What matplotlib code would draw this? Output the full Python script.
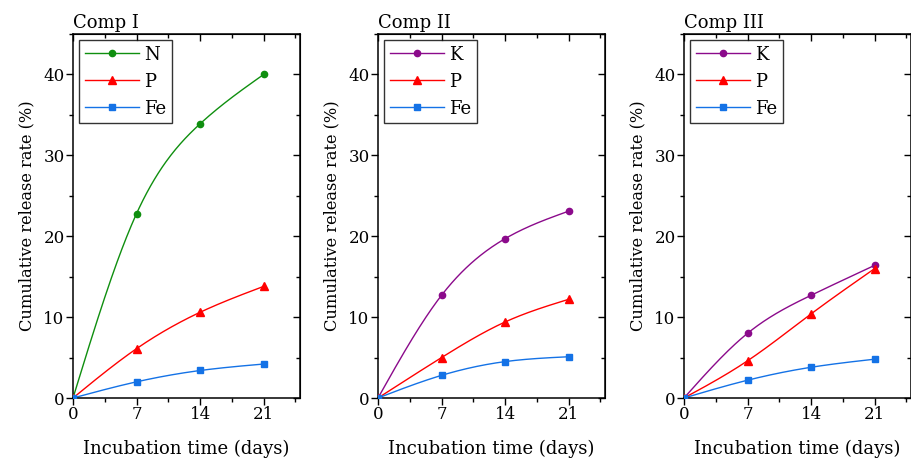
import matplotlib
matplotlib.use("Agg")
import matplotlib.pyplot as plt
import numpy as np
from matplotlib.ticker import MultipleLocator

# data
days = [0, 7, 14, 21]
titles = ["Comp I", "Comp II", "Comp III"]
names = [["N", "P", "Fe"], ["K", "P", "Fe"], ["K", "P", "Fe"]]
comp1_n = [0, 22.8, 33.9, 40.0]
comp1_p = [0, 6.1, 10.6, 13.8]
comp1_fe = [0, 2.0, 3.4, 4.2]
comp2_k = [0, 12.7, 19.7, 23.1]
comp2_p = [0, 5.0, 9.4, 12.2]
comp2_fe = [0, 2.8, 4.5, 5.1]
comp3_k = [0, 8.0, 12.7, 16.4]
comp3_p = [0, 4.6, 10.4, 16.0]
comp3_fe = [0, 2.2, 3.8, 4.8]

series = [[comp1_n, comp1_p, comp1_fe],
          [comp2_k, comp2_p, comp2_fe],
          [comp3_k, comp3_p, comp3_fe]]

colors = {"N": "#0f8f0f", "K": "#8b0a8b", "P": "#ff0000", "Fe": "#1472e6"}
markers = {"N": "o", "K": "o", "P": "^", "Fe": "s"}
msizes = {"N": 4.5, "K": 4.5, "P": 5.5, "Fe": 4.5}


def spline(x, y, n=200):
    # natural cubic spline, just for drawing the smooth connecting line
    x = np.asarray(x, float)
    y = np.asarray(y, float)
    k = len(x)
    h = np.diff(x)
    A = np.zeros((k, k))
    b = np.zeros(k)
    A[0, 0] = A[-1, -1] = 1
    for i in range(1, k - 1):
        A[i, i - 1] = h[i - 1]
        A[i, i] = 2 * (h[i - 1] + h[i])
        A[i, i + 1] = h[i]
        b[i] = 6 * ((y[i + 1] - y[i]) / h[i] - (y[i] - y[i - 1]) / h[i - 1])
    M = np.linalg.solve(A, b)
    xs = np.linspace(x[0], x[-1], n)
    idx = np.clip(np.searchsorted(x, xs) - 1, 0, k - 2)
    x0, x1 = x[idx], x[idx + 1]
    hh = x1 - x0
    t0, t1 = x1 - xs, xs - x0
    ys = (M[idx] * t0**3 + M[idx + 1] * t1**3) / (6 * hh) \
        + (y[idx] / hh - M[idx] * hh / 6) * t0 \
        + (y[idx + 1] / hh - M[idx + 1] * hh / 6) * t1
    return xs, ys


plt.rcParams['font.family'] = ['DejaVu Serif']

fig = plt.figure(figsize=(9.12, 4.61), dpi=100)
lefts = [73, 378, 684]
W, H = 912.0, 461.0

for j in range(3):
    ax = fig.add_axes([lefts[j] / W, 63 / H, 227 / W, 364 / H])
    for name, vals in zip(names[j], series[j]):
        c = colors[name]
        xs, ys = spline(days, vals)
        ax.plot(xs, ys, color=c, lw=1.0, zorder=2)
        ax.plot(days, vals, ls='none', marker=markers[name], ms=msizes[name],
                color=c, zorder=3)
        ax.plot([], [], color=c, lw=1.0, marker=markers[name],
                ms=msizes[name], label=name)

    ax.set_xlim(0, 25)
    ax.set_ylim(0, 45)
    ax.set_xticks(days)
    ax.set_yticks([0, 10, 20, 30, 40])
    ax.xaxis.set_minor_locator(MultipleLocator(3.5))
    ax.yaxis.set_minor_locator(MultipleLocator(5))
    ax.tick_params(which='both', direction='out', labelsize=12, width=1.0)
    ax.tick_params(which='major', length=5, pad=1)
    ax.tick_params(which='minor', length=3)
    for s in ax.spines.values():
        s.set_linewidth(1.1)

    # inward mirror ticks on top and right
    top = ax.secondary_xaxis('top')
    top.set_xticks(days)
    top.xaxis.set_minor_locator(MultipleLocator(3.5))
    top.tick_params(which='both', direction='in', labeltop=False, width=1.0)
    top.tick_params(which='major', length=5)
    top.tick_params(which='minor', length=3)
    right = ax.secondary_yaxis('right')
    right.set_yticks([0, 10, 20, 30, 40])
    right.yaxis.set_minor_locator(MultipleLocator(5))
    right.tick_params(which='both', direction='in', labelright=False, width=1.0)
    right.tick_params(which='major', length=5)
    right.tick_params(which='minor', length=3)

    ax.set_xlabel("Incubation time (days)", fontsize=13, labelpad=12)
    ax.set_ylabel("Cumulative release rate (%)", fontsize=11.7, labelpad=6)
    ax.set_title(titles[j], loc='left', fontsize=13, pad=4)

    leg = ax.legend(loc='upper left', fontsize=13, frameon=True, fancybox=False,
                    edgecolor='black', handlelength=3.0, handletextpad=0.3,
                    borderpad=0.3, labelspacing=0.5, borderaxespad=0.35)
    leg.get_frame().set_linewidth(1.0)

fig.savefig("out.png", dpi=100)
